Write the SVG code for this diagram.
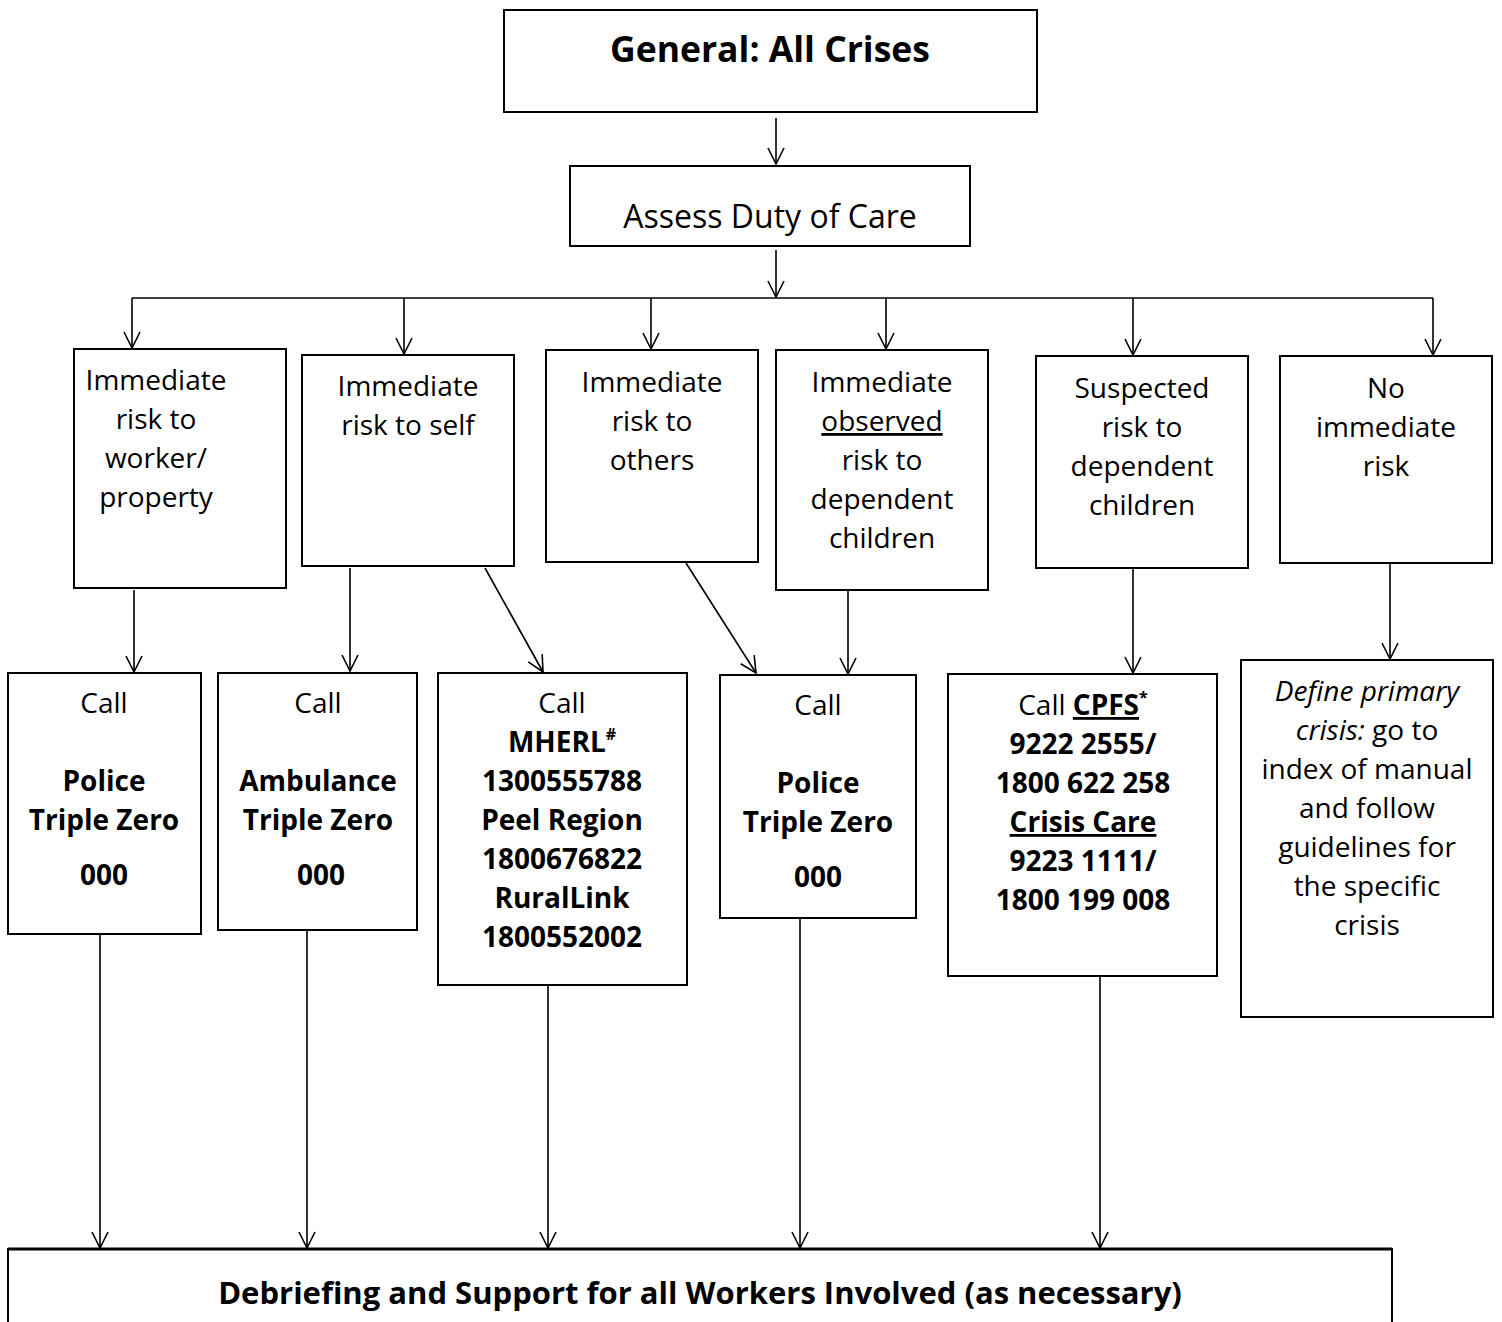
<svg xmlns="http://www.w3.org/2000/svg" width="1502" height="1322" viewBox="0 0 1502 1322">
  <style>
    .box { fill: #fff; stroke: #000; stroke-width: 2; }
    .t { font-family: "Open Sans", "Liberation Sans", sans-serif; font-size: 28px; fill: #000; text-anchor: middle; }
    .b { font-weight: bold; }
    .i { font-style: italic; }
    .u { text-decoration: underline; }
    .sup { font-size: 16px; }
    .conn { stroke: #000; stroke-width: 1.6; fill: none; marker-end: url(#arrow); }
    .plain { stroke: #000; stroke-width: 1.6; fill: none; }
  </style>
  <defs>
    <marker id="arrow" markerUnits="userSpaceOnUse" markerWidth="24" markerHeight="24" viewBox="-18 -12 24 24" refX="0" refY="0" orient="auto" overflow="visible">
      <path d="M -16 -8 L 0 0 L -16 8" fill="none" stroke="#000" stroke-width="1.6"/>
    </marker>
  </defs>
  <rect width="1502" height="1322" fill="#fff"/>

  <!-- connectors -->
  <g id="connectors">
    <line class="conn" x1="776" y1="118" x2="776" y2="164"/>
    <line class="conn" x1="776" y1="250" x2="776" y2="297"/>
    <line class="plain" x1="132" y1="298" x2="1433" y2="298"/>
    <line class="conn" x1="132" y1="298" x2="132" y2="348"/>
    <line class="conn" x1="404" y1="298" x2="404" y2="354"/>
    <line class="conn" x1="651" y1="298" x2="651" y2="349"/>
    <line class="conn" x1="886" y1="298" x2="886" y2="349"/>
    <line class="conn" x1="1133" y1="298" x2="1133" y2="355"/>
    <line class="conn" x1="1433" y1="298" x2="1433" y2="355"/>

    <line class="conn" x1="134" y1="590" x2="134" y2="672"/>
    <line class="conn" x1="350" y1="568" x2="350" y2="671"/>
    <line class="conn" x1="485" y1="568" x2="543" y2="672"/>
    <line class="conn" x1="686" y1="563" x2="756" y2="673"/>
    <line class="conn" x1="848" y1="591" x2="848" y2="674"/>
    <line class="conn" x1="1133" y1="569" x2="1133" y2="673"/>
    <line class="conn" x1="1390" y1="564" x2="1390" y2="659"/>

    <line class="conn" x1="100" y1="935" x2="100" y2="1248"/>
    <line class="conn" x1="307" y1="931" x2="307" y2="1248"/>
    <line class="conn" x1="548" y1="986" x2="548" y2="1248"/>
    <line class="conn" x1="800" y1="919" x2="800" y2="1248"/>
    <line class="conn" x1="1100" y1="977" x2="1100" y2="1248"/>
  </g>

  <g id="general">
    <rect class="box" x="504" y="10" width="533" height="102"/>
    <text class="t b" x="770" y="62" style="font-size:35.5px">General: All Crises</text>
  </g>

  <g id="assess">
    <rect class="box" x="570" y="166" width="400" height="80"/>
    <text class="t" x="770" y="228" style="font-size:32px">Assess Duty of Care</text>
  </g>

  <g id="risk-worker">
    <rect class="box" x="74" y="349" width="212" height="239"/>
    <text class="t" x="156" y="390">Immediate</text>
    <text class="t" x="156" y="429">risk to</text>
    <text class="t" x="156" y="468">worker/</text>
    <text class="t" x="156" y="507">property</text>
  </g>

  <g id="risk-self">
    <rect class="box" x="302" y="355" width="212" height="211"/>
    <text class="t" x="408" y="396">Immediate</text>
    <text class="t" x="408" y="435">risk to self</text>
  </g>

  <g id="risk-others">
    <rect class="box" x="546" y="350" width="212" height="212"/>
    <text class="t" x="652" y="392">Immediate</text>
    <text class="t" x="652" y="431">risk to</text>
    <text class="t" x="652" y="470">others</text>
  </g>

  <g id="risk-observed">
    <rect class="box" x="776" y="350" width="212" height="240"/>
    <text class="t" x="882" y="392">Immediate</text>
    <text class="t u" x="882" y="431">observed</text>
    <text class="t" x="882" y="470">risk to</text>
    <text class="t" x="882" y="509">dependent</text>
    <text class="t" x="882" y="548">children</text>
  </g>

  <g id="risk-suspected">
    <rect class="box" x="1036" y="356" width="212" height="212"/>
    <text class="t" x="1142" y="398">Suspected</text>
    <text class="t" x="1142" y="437">risk to</text>
    <text class="t" x="1142" y="476">dependent</text>
    <text class="t" x="1142" y="515">children</text>
  </g>

  <g id="no-risk">
    <rect class="box" x="1280" y="356" width="212" height="207"/>
    <text class="t" x="1386" y="398">No</text>
    <text class="t" x="1386" y="437">immediate</text>
    <text class="t" x="1386" y="476">risk</text>
  </g>

  <g id="call-police-1">
    <rect class="box" x="8" y="673" width="193" height="261"/>
    <text class="t" x="104" y="713">Call</text>
    <text class="t b" x="104" y="791">Police</text>
    <text class="t b" x="104" y="830">Triple Zero</text>
    <text class="t b" x="104" y="885">000</text>
  </g>

  <g id="call-ambulance">
    <rect class="box" x="218" y="673" width="199" height="257"/>
    <text class="t" x="318" y="713">Call</text>
    <text class="t b" x="318" y="791">Ambulance</text>
    <text class="t b" x="318" y="830">Triple Zero</text>
    <text class="t b" x="321" y="885">000</text>
  </g>

  <g id="call-mherl">
    <rect class="box" x="438" y="673" width="249" height="312"/>
    <text class="t" x="562" y="713">Call</text>
    <text class="t b" x="562" y="752">MHERL<tspan class="sup" dy="-12">#</tspan></text>
    <text class="t b" x="562" y="791">1300555788</text>
    <text class="t b" x="562" y="830">Peel Region</text>
    <text class="t b" x="562" y="869">1800676822</text>
    <text class="t b" x="562" y="908">RuralLink</text>
    <text class="t b" x="562" y="947">1800552002</text>
  </g>

  <g id="call-police-2">
    <rect class="box" x="720" y="675" width="196" height="243"/>
    <text class="t" x="818" y="715">Call</text>
    <text class="t b" x="818" y="793">Police</text>
    <text class="t b" x="818" y="832">Triple Zero</text>
    <text class="t b" x="818" y="887">000</text>
  </g>

  <g id="call-cpfs">
    <rect class="box" x="948" y="674" width="269" height="302"/>
    <text class="t" x="1083" y="715">Call <tspan class="b u">CPFS</tspan><tspan class="b sup" dy="-12">*</tspan></text>
    <text class="t b" x="1083" y="754">9222 2555/</text>
    <text class="t b" x="1083" y="793">1800 622 258</text>
    <text class="t b u" x="1083" y="832">Crisis Care</text>
    <text class="t b" x="1083" y="871">9223 1111/</text>
    <text class="t b" x="1083" y="910">1800 199 008</text>
  </g>

  <g id="define-crisis">
    <rect class="box" x="1241" y="660" width="252" height="357"/>
    <text class="t i" x="1367" y="701">Define primary</text>
    <text class="t" x="1367" y="740"><tspan class="i">crisis:</tspan> go to</text>
    <text class="t" x="1367" y="779">index of manual</text>
    <text class="t" x="1367" y="818">and follow</text>
    <text class="t" x="1367" y="857">guidelines for</text>
    <text class="t" x="1367" y="896">the specific</text>
    <text class="t" x="1367" y="935">crisis</text>
  </g>

  <g id="debriefing">
    <rect class="box" x="8" y="1249" width="1384" height="100"/>
    <line x1="8" y1="1249" x2="1392" y2="1249" stroke="#000" stroke-width="3"/>
    <text class="t b" x="700" y="1304" style="font-size:31px">Debriefing and Support for all Workers Involved (as necessary)</text>
  </g>
</svg>
